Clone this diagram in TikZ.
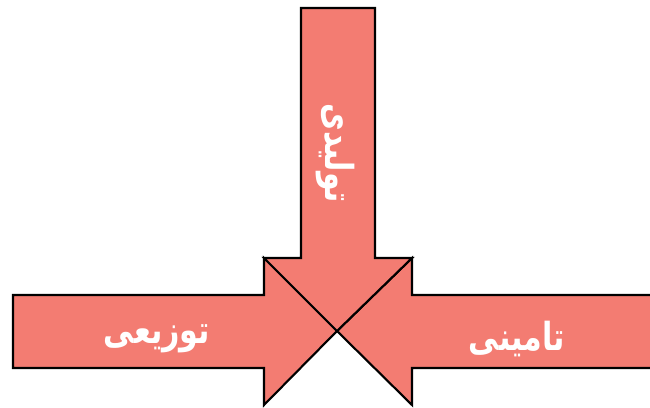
\documentclass[tikz,border=0pt]{standalone}
\usepackage{fontspec}
\newfontfamily\arabicfont[Script=Arabic]{DejaVu Sans}
\TeXXeTstate=1
\definecolor{arrowfill}{RGB}{243,124,114}
\newcommand{\arabicword}[1]{\scalebox{0.78}[1]{\beginR #1\endR}}
\begin{document}
\begin{tikzpicture}[
    x=0.02cm,
    y=-0.02cm,
    arrowshape/.style={
        fill=arrowfill,
        draw=black,
        line width=1.2pt,
        line join=miter
    },
    wordtext/.style={
        text=white,
        font=\arabicfont\bfseries\fontsize{22}{24}\selectfont,
        inner sep=0pt
    }
]
\useasboundingbox (0,0) rectangle (650,407);
\clip (0,0) rectangle (650,407);

% left arrow
\filldraw[arrowshape] (13,295) -- (264,295) -- (264,258) -- (337,331)
    -- (264,405) -- (264,368) -- (13,368) -- cycle;
% right arrow
\filldraw[arrowshape] (660,295) -- (412,295) -- (412,258) -- (337,331)
    -- (412,405) -- (412,368) -- (660,368) -- cycle;
% top arrow
\filldraw[arrowshape] (301,8) -- (375,8) -- (375,258) -- (412,258)
    -- (337,331) -- (264,258) -- (301,258) -- cycle;

\node[wordtext, rotate=-90] (produce) at (335,153) {\arabicword{تولیدی}};
\node[wordtext] (distribute) at (157,339) {\arabicword{توزیعی}};
\node[wordtext] (supply) at (517,339) {\arabicword{تامینی}};

\end{tikzpicture}
\end{document}
